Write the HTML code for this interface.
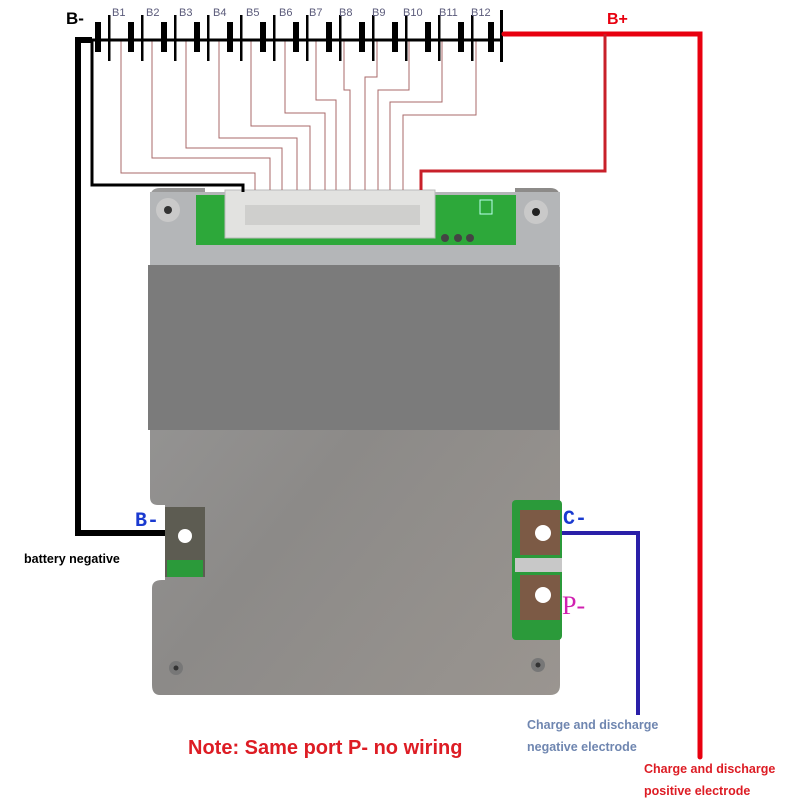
<!DOCTYPE html>
<html><head><meta charset="utf-8"><style>
html,body{margin:0;padding:0;background:#fff;width:800px;height:800px;overflow:hidden}
svg{display:block}
</style></head><body>
<svg width="800" height="800" viewBox="0 0 800 800" xmlns="http://www.w3.org/2000/svg">
<defs>
<linearGradient id="metal" x1="0" y1="0" x2="1" y2="1">
<stop offset="0" stop-color="#9a9a9a"/><stop offset="0.5" stop-color="#8c8a88"/><stop offset="1" stop-color="#9a9590"/>
</linearGradient>
</defs>
<rect width="800" height="800" fill="#fff"/>

<!-- board -->
<path d="M160,188 H205 V200 H515 V188 H550 Q560,188 560,198 V685 Q560,695 550,695 H160 Q152,695 152,685 V588 Q152,580 162,580 H165 V505 H158 Q150,505 150,497 V198 Q150,188 160,188 Z" fill="url(#metal)"/>
<rect x="150" y="192" width="410" height="75" fill="#b4b6b8"/>
<rect x="196" y="195" width="320" height="50" fill="#2da83a"/>
<rect x="225" y="190" width="210" height="48" fill="#e2e2e0" stroke="#bbb"/>
<rect x="245" y="205" width="175" height="20" fill="#cfcfcd"/>
<g fill="#444"><circle cx="445" cy="238" r="4"/><circle cx="458" cy="238" r="4"/><circle cx="470" cy="238" r="4"/></g>
<rect x="480" y="200" width="12" height="14" fill="none" stroke="#bfe" stroke-width="1"/>
<circle cx="168" cy="210" r="12" fill="#c9c9c9"/><circle cx="168" cy="210" r="4" fill="#333"/>
<circle cx="536" cy="212" r="12" fill="#c9c9c9"/><circle cx="536" cy="212" r="4" fill="#222"/>
<rect x="148" y="265" width="411" height="165" fill="#7b7b7b"/>
<!-- left tab -->
<rect x="165" y="507" width="40" height="70" fill="#5d5c52"/>
<rect x="167" y="560" width="36" height="17" fill="#2b9a3a"/>
<circle cx="185" cy="536" r="7" fill="#fff"/>
<!-- right green area -->
<rect x="512" y="500" width="50" height="140" rx="4" fill="#2b9a3a"/>
<rect x="520" y="510" width="40" height="45" fill="#7c5a45"/>
<rect x="520" y="575" width="40" height="45" fill="#7c5a45"/>
<rect x="515" y="558" width="47" height="14" fill="#c8c8c8"/>
<circle cx="543" cy="533" r="8" fill="#fff"/>
<circle cx="543" cy="595" r="8" fill="#fff"/>
<circle cx="176" cy="668" r="7" fill="#777"/><circle cx="176" cy="668" r="2.5" fill="#333"/>
<circle cx="538" cy="665" r="7" fill="#777"/><circle cx="538" cy="665" r="2.5" fill="#333"/>

<!-- balance taps -->
<g fill="none" stroke="#a86a6a" stroke-width="1">
<polyline points="121,40 121,173 255,173 255,190"/>
<polyline points="152,40 152,158 270,158 270,190"/>
<polyline points="186,40 186,148 282,148 282,190"/>
<polyline points="219,40 219,138 297,138 297,190"/>
<polyline points="251,40 251,126 310,126 310,190"/>
<polyline points="285,40 285,113 325,113 325,190"/>
<polyline points="316,40 316,100 336,100 336,190"/>
<polyline points="344,40 344,90 350,90 350,190"/>
<polyline points="377,40 377,77 365,77 365,190"/>
<polyline points="409,40 409,90 378,90 378,190"/>
<polyline points="442,40 442,102 390,102 390,190"/>
<polyline points="476,40 476,115 403,115 403,190"/>
</g>

<!-- battery -->
<line x1="92" y1="40" x2="500" y2="40" stroke="#000" stroke-width="3"/>
<g fill="#000">
<rect x="95" y="22" width="6" height="30"/><rect x="108" y="15" width="2.5" height="46"/>
<rect x="128" y="22" width="6" height="30"/><rect x="141" y="15" width="2.5" height="46"/>
<rect x="161" y="22" width="6" height="30"/><rect x="174" y="15" width="2.5" height="46"/>
<rect x="194" y="22" width="6" height="30"/><rect x="207" y="15" width="2.5" height="46"/>
<rect x="227" y="22" width="6" height="30"/><rect x="240" y="15" width="2.5" height="46"/>
<rect x="260" y="22" width="6" height="30"/><rect x="273" y="15" width="2.5" height="46"/>
<rect x="293" y="22" width="6" height="30"/><rect x="306" y="15" width="2.5" height="46"/>
<rect x="326" y="22" width="6" height="30"/><rect x="339" y="15" width="2.5" height="46"/>
<rect x="359" y="22" width="6" height="30"/><rect x="372" y="15" width="2.5" height="46"/>
<rect x="392" y="22" width="6" height="30"/><rect x="405" y="15" width="2.5" height="46"/>
<rect x="425" y="22" width="6" height="30"/><rect x="438" y="15" width="2.5" height="46"/>
<rect x="458" y="22" width="6" height="30"/><rect x="471" y="15" width="2.5" height="46"/>
<rect x="488" y="22" width="6" height="30"/><rect x="500" y="10" width="3" height="52"/>
</g>
<g font-family="Liberation Sans, sans-serif" font-size="11" fill="#5a5a7a">
<text x="112" y="16">B1</text><text x="146" y="16">B2</text><text x="179" y="16">B3</text>
<text x="213" y="16">B4</text><text x="246" y="16">B5</text><text x="279" y="16">B6</text>
<text x="309" y="16">B7</text><text x="339" y="16">B8</text><text x="372" y="16">B9</text>
<text x="403" y="16">B10</text><text x="439" y="16">B11</text><text x="471" y="16">B12</text>
</g>

<!-- wires -->
<polyline points="92,40 78,40 78,533 165,533" fill="none" stroke="#000" stroke-width="6"/>
<polyline points="92,40 92,185 243,185 243,192" fill="none" stroke="#000" stroke-width="3"/>
<polyline points="504,34 700,34 700,757" fill="none" stroke="#e8000f" stroke-width="5" stroke-linecap="round"/>
<polyline points="421,190 421,171 605,171 605,34" fill="none" stroke="#c8202a" stroke-width="3"/>
<polyline points="562,533 638,533 638,715" fill="none" stroke="#2a1fa8" stroke-width="4"/>

<!-- labels -->
<text x="66" y="24" font-family="Liberation Sans, sans-serif" font-weight="bold" font-size="17" fill="#000">B-</text>
<text x="607" y="24" font-family="Liberation Sans, sans-serif" font-weight="bold" font-size="16" fill="#e8000f">B+</text>
<text x="135" y="526" font-family="Liberation Mono, monospace" font-weight="bold" font-size="20" fill="#1a3ad0">B-</text>
<text x="563" y="524" font-family="Liberation Mono, monospace" font-weight="bold" font-size="20" fill="#1a3ad0">C-</text>
<text x="562" y="614" font-family="Liberation Serif, serif" font-size="26" fill="#d020b0">P-</text>
<text x="24" y="563" font-family="Liberation Sans, sans-serif" font-weight="bold" font-size="12.5" fill="#000">battery negative</text>
<text x="188" y="754" font-family="Liberation Sans, sans-serif" font-weight="bold" font-size="20" fill="#dd1c24">Note: Same port P- no wiring</text>
<g font-family="Liberation Sans, sans-serif" font-weight="bold" font-size="12.5" fill="#6f86b0">
<text x="527" y="729">Charge and discharge</text><text x="527" y="751">negative electrode</text></g>
<g font-family="Liberation Sans, sans-serif" font-weight="bold" font-size="12.5" fill="#dd1c24">
<text x="644" y="773">Charge and discharge</text><text x="644" y="795">positive electrode</text></g>
</svg>
</body></html>
